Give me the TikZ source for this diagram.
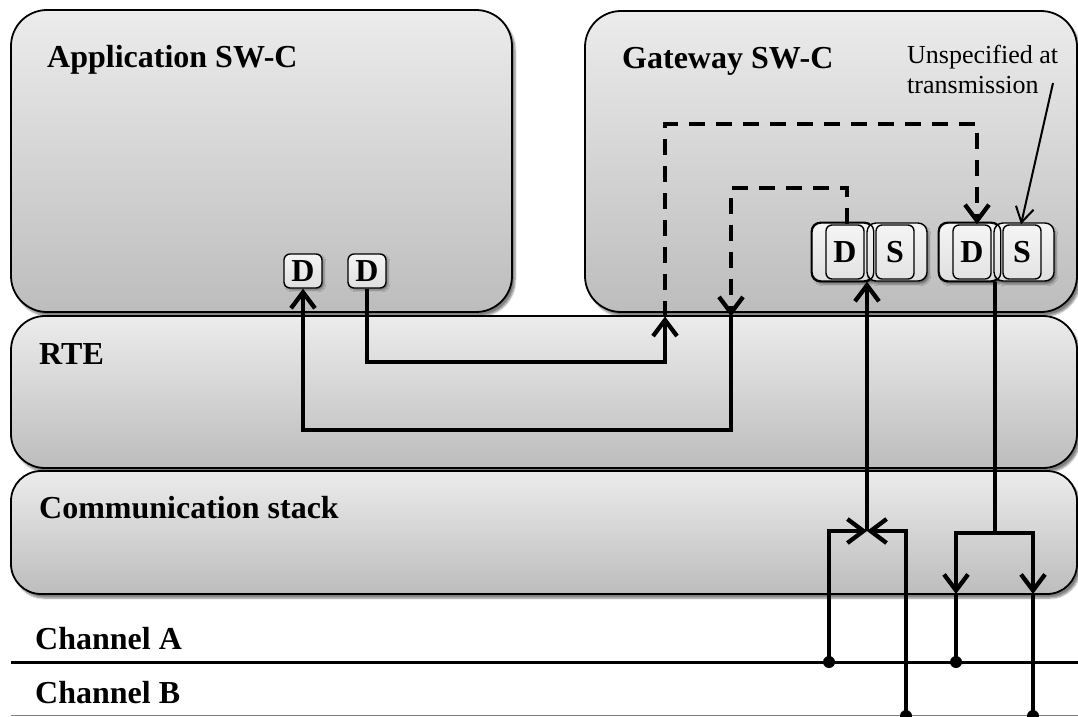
\documentclass[tikz,border=0pt]{standalone}
\usepackage{fontspec}
\setmainfont{Liberation Serif}
\usetikzlibrary{arrows.meta,shadows.blur}
\newcommand\lblfont{\fontsize{32}{38}\selectfont\bfseries}
\newcommand\notefont{\fontsize{26}{30}\selectfont}
\begin{document}
\begin{tikzpicture}[x=1pt,y=-1pt,
  layerbox/.style={draw=black,line width=1.8pt,rounded corners=36pt,
    top color=gray!15,bottom color=gray!52,inner sep=0pt,
    blur shadow={shadow xshift=3pt,shadow yshift=-4pt,shadow opacity=50,shadow blur steps=6}},
  portbox/.style={draw=black,line width=1.4pt,rounded corners=6pt,
    top color=gray!8,bottom color=gray!25,inner sep=0pt,
    minimum width=38pt,minimum height=34pt,font=\lblfont,
    blur shadow={shadow xshift=2pt,shadow yshift=-2pt,shadow opacity=40,shadow blur steps=4}},
  backbox/.style={draw=black,line width=1.4pt,rounded corners=9pt,
    top color=gray!8,bottom color=gray!25,inner sep=0pt,
    minimum height=58pt,
    blur shadow={shadow xshift=2pt,shadow yshift=-3pt,shadow opacity=45,shadow blur steps=4}},
  frontbox/.style={draw=black,line width=1.4pt,rounded corners=6pt,
    top color=gray!8,bottom color=gray!22,inner sep=0pt,
    minimum width=38pt,minimum height=54pt,font=\lblfont},
  title/.style={anchor=base west,inner sep=0pt,font=\lblfont},
  conn/.style={line width=4.3pt},
  flowdash/.style={line width=4.3pt,dash pattern=on 16pt off 11pt},
  >={Straight Barb[length=16pt,width=24pt]},
  dot/.style={circle,fill=black,inner sep=0pt,minimum size=12pt}
]
\useasboundingbox (0,0) rectangle (1078,716);

% software components
\node[layerbox,minimum width=501pt,minimum height=302pt] (app) at (261.5,161) {};
\node[layerbox,minimum width=492pt,minimum height=301pt] (gw) at (831,161.5) {};
% RTE and communication stack layers
\node[layerbox,rounded corners=34pt,minimum width=1066pt,minimum height=152pt] (rte) at (544,392) {};
\node[layerbox,rounded corners=30pt,minimum width=1066pt,minimum height=123pt] (com) at (544,532.5) {};

\node[title] (appT) at (47,67) {Application SW-C};
\node[title] (gwT) at (622,68) {Gateway SW-C};
\node[title] (rteT) at (39,364) {RTE};
\node[title] (comT) at (39,518) {Communication stack};

% data ports of the application
\node[portbox] (d1) at (303,271) {D};
\node[portbox] (d2) at (367,271) {D};

% gateway port groups (data + status)
\node[backbox,minimum width=61pt] (gb1) at (842.5,252) {};
\node[backbox,minimum width=60pt] (gc1) at (897,252) {};
\draw[line width=1.4pt,rounded corners=9pt] (gb1.north west) rectangle (gb1.south east);
\node[frontbox] (gd1) at (845,252) {D};
\node[frontbox] (gs1) at (895,252) {S};

\node[backbox,minimum width=61pt] (gb2) at (969.5,252) {};
\node[backbox,minimum width=60pt] (gc2) at (1024,252) {};
\draw[line width=1.4pt,rounded corners=9pt] (gb2.north west) rectangle (gb2.south east);
\node[frontbox] (gd2) at (972,252) {D};
\node[frontbox] (gs2) at (1022,252) {S};

% channels
\node[title] (chAT) at (35,649) {Channel A};
\node[title] (chBT) at (35,703) {Channel B};
\coordinate (chAw) at (11,662);
\coordinate (chAe) at (1078,662);
\coordinate (chBw) at (11,715.5);
\coordinate (chBe) at (1078,715.5);
\draw[line width=3pt] (chAw) -- (chAe);
\draw[line width=1.6pt,draw=gray] (chBw) -- (chBe);

% application -> gateway
\coordinate (upA) at (665,316.5);
\draw[conn,->] (d2.south) |- (530,362) -| (upA);
\draw[flowdash,->] (upA) |- (977,124) -- ([xshift=5pt]gd2.north);

% gateway -> application
\coordinate (downB) at (731,316.5);
\draw[flowdash,->] ([xshift=2pt]gd1.north) |- (780,188) -| (downB);
\draw[conn,->] (downB) |- (500,430) -| (d1.south);

% reception from both channels
\node[dot] (ra) at (829,662) {};
\node[dot] (rb) at (906,716) {};
\coordinate (j1) at (867,531);
\draw[conn,->] (ra.center) |- (j1);
\draw[conn,->] (rb.center) |- (j1);
\draw[conn,->] (j1) -- (gb1.south -| j1);

% transmission to both channels
\node[dot] (ta) at (956,662) {};
\node[dot] (tb) at (1033,716) {};
\coordinate (j2) at (995,533);
\coordinate (ja) at (956,594);
\coordinate (jb) at (1033,594);
\draw[conn] (gb2.south -| j2) -- (j2);
\draw[conn,->] (j2) -| (ja);
\draw[conn,->] (j2) -| (jb);
\draw[conn] (ja) -- (ta.center);
\draw[conn] (jb) -- (tb.center);

% note on the status port
\node[font=\notefont,align=left,inner sep=0pt,anchor=base west] (note) at (907,93) {Unspecified at\\transmission};
\coordinate (noteEnd) at (1053,83);
\draw[line width=2pt,-{Straight Barb[length=15pt,width=18pt]}] (noteEnd) -- ([xshift=-1pt]gs2.north);
\end{tikzpicture}
\end{document}
